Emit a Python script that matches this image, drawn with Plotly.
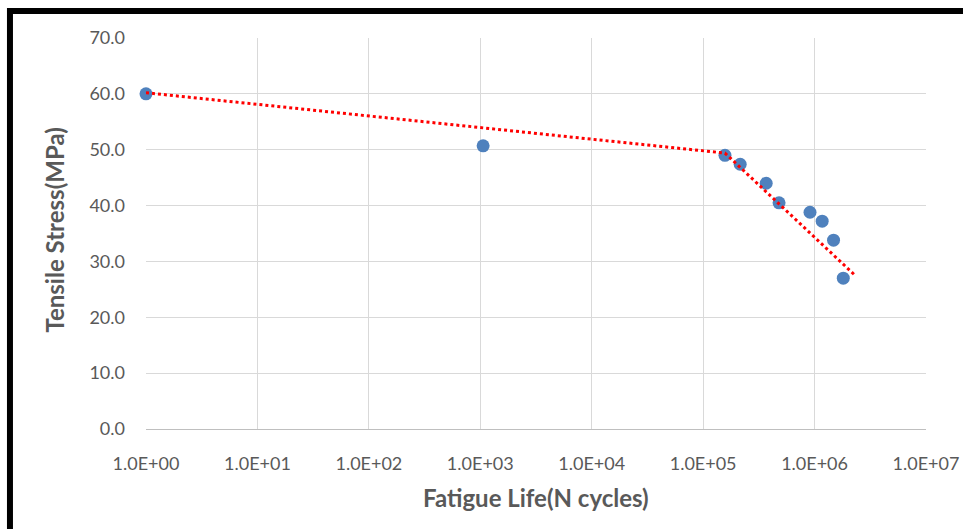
import plotly.graph_objects as go

# Fatigue test results
cycles = [1, 1.06e3, 1.57e5, 2.15e5, 3.68e5, 4.8e5, 9.1e5, 1.17e6, 1.48e6, 1.81e6]
stress = [60.0, 50.7, 49.0, 47.4, 44.0, 40.5, 38.8, 37.2, 33.8, 27.0]

# Dotted trend line
trend_x = [1, 1e3, 1.57e5, 2.34e6]
trend_y = [60.2, 54.0, 49.4, 27.4]

tick_vals = [1, 1e1, 1e2, 1e3, 1e4, 1e5, 1e6, 1e7]
tick_text = ['1.0E+00', '1.0E+01', '1.0E+02', '1.0E+03',
             '1.0E+04', '1.0E+05', '1.0E+06', '1.0E+07']

font_name = 'Lato, Calibri, sans-serif'
grey = '#595959'

fig = go.Figure()
fig.add_trace(go.Scatter(
    x=cycles, y=stress, mode='markers',
    marker=dict(color='#4F81BD', size=13),
    cliponaxis=False, showlegend=False
))
fig.add_trace(go.Scatter(
    x=trend_x, y=trend_y, mode='lines',
    line=dict(color='#FF0000', width=3, dash='dot'),
    cliponaxis=False, showlegend=False
))

fig.update_layout(
    width=963, height=529,
    margin=dict(l=146, r=37, t=38, b=100),
    paper_bgcolor='white', plot_bgcolor='white',
    font=dict(family=font_name, size=18, color=grey),
    xaxis=dict(
        type='log', range=[0, 7], automargin=False,
        tickvals=tick_vals, ticktext=tick_text,
        showgrid=True, gridcolor='#d9d9d9', gridwidth=1,
        showline=True, linecolor='#bfbfbf', linewidth=1,
        zeroline=False, ticks='', ticklabelstandoff=18,
    ),
    yaxis=dict(
        range=[0, 70], dtick=10, tickformat='.1f', automargin=False,
        showgrid=True, gridcolor='#d9d9d9', gridwidth=1,
        zeroline=False, showline=False, ticks='', ticklabelstandoff=20,
    ),
    annotations=[
        dict(text='<b>Tensile Stress(MPa)</b>', xref='paper', yref='paper',
             x=-0.1167, y=0.51, textangle=-90, showarrow=False,
             font=dict(family=font_name, size=24, color=grey),
             xanchor='center', yanchor='middle'),
        dict(text='<b>Fatigue Life(N cycles)</b>', xref='paper', yref='paper',
             x=0.5, y=-0.176, showarrow=False,
             font=dict(family=font_name, size=24, color=grey),
             xanchor='center', yanchor='middle'),
    ],
    shapes=[
        dict(type='rect', xref='paper', yref='paper',
             x0=-0.1744, x1=1.2, y0=-0.4, y1=1.069,
             line=dict(color='black', width=6), layer='above'),
    ],
)

# drop the default page margin so the figure fills the window exactly
fig.write_html(
    "out.html",
    config={'displayModeBar': False},
    post_script="document.body.style.margin='0px';"
                "document.body.style.overflow='hidden';",
)
